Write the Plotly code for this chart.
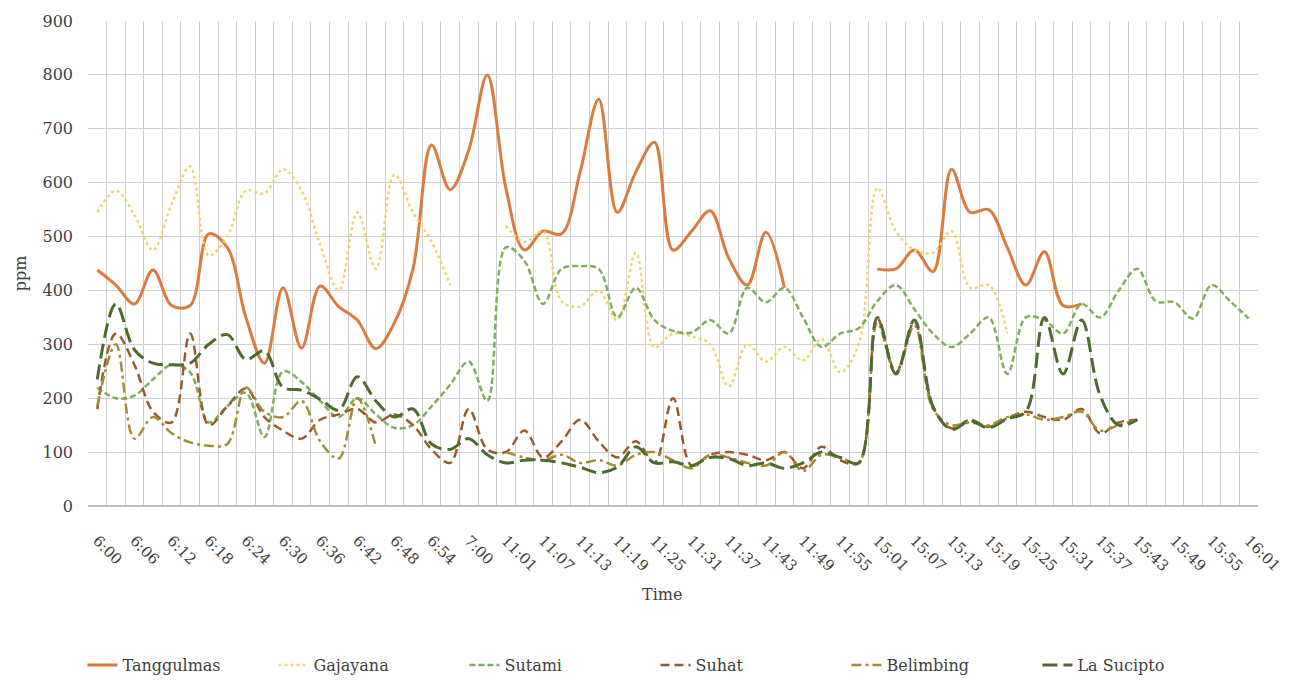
import plotly.graph_objects as go

# Category positions: 63 readings, every second one labelled
tick_labels = ["6:00", "6:06", "6:12", "6:18", "6:24", "6:30", "6:36", "6:42", "6:48", "6:54", "7:00",
               "11:01", "11:07", "11:13", "11:19", "11:25", "11:31", "11:37", "11:43", "11:49", "11:55",
               "15:01", "15:07", "15:13", "15:19", "15:25", "15:31", "15:37", "15:43", "15:49", "15:55", "16:01"]
n_points = 63
x_idx = list(range(n_points))

N = None
tanggulmas = [438, 410, 375, 438, 372, 372, 505, 480, 350, 265, 405, 293, 408, 370, 345, 292, 340, 440, 670, 587,
              660, 800, 590, 475, 510, 505, 620, 755, 545, 620, 675, 475, 510, 548, 460, 410, 508, 405, N, N,
              N, N, 440, 440, 475, 435, 625, 545, 550, 480, 410, 472, 372, 375, N, N, N, N, N, N,
              N, N, N]
gajayana = [545, 585, 540, 475, 560, 630, 465, 500, 585, 580, 625, 585, 485, 400, 545, 440, 615, 545, 490, 410,
            N, N, 520, 490, 510, 380, 370, 400, 345, 470, 295, 320, 315, 300, 222, 300, 268, 295, 270, 310,
            248, 300, 590, 510, 475, 470, 510, 405, 410, 320, N, N, N, N, N, N, N, N, N, N,
            N, N, N]
sutami = [220, 200, 205, 235, 262, 248, 155, 185, 210, 128, 250, 230, 195, 165, 200, 170, 145, 150, 185, 225,
          268, 195, 480, 455, 375, 440, 445, 440, 350, 405, 345, 325, 322, 345, 320, 405, 378, 405, 350, 295,
          320, 330, 380, 410, 365, 320, 295, 320, 350, 245, 350, 345, 320, 375, 350, 400, 440, 380, 378, 348,
          410, 380, 348]
suhat = [180, 320, 262, 175, 155, 320, 150, 185, 218, 165, 140, 125, 160, 170, 180, 155, 170, 150, 105, 80,
         180, 105, 100, 140, 90, 120, 160, 120, 90, 120, 80, 200, 75, 95, 100, 95, 85, 100, 70, 110,
         85, 80, 348, 248, 342, 183, 144, 160, 147, 163, 175, 165, 160, 180, 135, 155, 160, N, N, N,
         N, N, N]
belimbing = [185, 300, 125, 165, 135, 118, 112, 115, 220, 175, 165, 195, 120, 88, 200, 110, N, N, N, N,
             N, N, 100, 90, 85, 95, 80, 85, 75, 95, 100, 85, 70, 95, 90, 80, 75, 100, 65, 95,
             90, 80, 340, 245, 335, 180, 150, 155, 150, 165, 170, 160, 165, 175, 140, 150, 160, N, N, N,
             N, N, N]
la_sucipto = [235, 375, 290, 265, 262, 265, 300, 318, 272, 288, 220, 215, 198, 178, 240, 195, 165, 180, 115, 105,
              125, 95, 80, 85, 85, 80, 72, 62, 72, 110, 80, 82, 75, 90, 88, 75, 80, 70, 80, 100,
              90, 80, 350, 245, 345, 185, 142, 158, 145, 162, 175, 350, 245, 345, 205, 150, 160, N, N, N,
              N, N, N]

series = [
    ("Tanggulmas", tanggulmas, "#DA7B3F", "solid", 3),
    ("Gajayana", gajayana, "#F3D36E", "dot", 2.5),
    ("Sutami", sutami, "#7EAF5D", "6px,3px", 2.5),
    ("Suhat", suhat, "#9A5A2C", "9px,5px", 2.5),
    ("Belimbing", belimbing, "#A38D35", "10px,4px,3px,4px", 2.5),
    ("La Sucipto", la_sucipto, "#4D6B2F", "15px,6px", 3),
]

FONT = "DejaVu Serif"
TEXT = "#404040"

fig = go.Figure()
for name, vals, color, dash, width in series:
    fig.add_trace(go.Scatter(
        x=x_idx, y=vals, name=name, mode="lines",
        line=dict(color=color, dash=dash, width=width, shape="spline", smoothing=1.0),
        connectgaps=False,
    ))

fig.update_layout(
    width=1303, height=682,
    margin=dict(l=88, r=45, t=21, b=176, autoexpand=False),
    paper_bgcolor="white", plot_bgcolor="white",
    font=dict(family=FONT, color=TEXT, size=15),
    showlegend=True,
    legend=dict(orientation="h", x=0.485, xanchor="center", y=-0.328, yanchor="middle",
                entrywidth=146, font=dict(family=FONT, size=16, color=TEXT)),
)

fig.update_xaxes(
    range=[-0.5, n_points - 0.5], automargin=False,
    tickmode="array", tickvals=x_idx[::2], ticktext=tick_labels,
    tickangle=45, tickfont=dict(family=FONT, size=15, color=TEXT),
    ticklabelstandoff=22,
    showgrid=False, zeroline=False, showline=False, ticks="",
    minor=dict(tickmode="linear", tick0=-0.5, dtick=1, showgrid=True,
               gridcolor="#D0D0D0", gridwidth=1, ticks=""),
)
fig.update_yaxes(
    range=[0, 900], dtick=100, tick0=0, automargin=False,
    tickfont=dict(family=FONT, size=16, color=TEXT),
    ticklabelstandoff=14,
    showgrid=True, gridcolor="#D0D0D0", gridwidth=1,
    zeroline=True, zerolinecolor="#BFBFBF", zerolinewidth=1.5,
    showline=False, ticks="",
)

fig.add_annotation(text="ppm", xref="paper", yref="paper", x=-0.068, y=0.48,
                   textangle=-90, showarrow=False,
                   font=dict(family=FONT, size=16, color=TEXT))
fig.add_annotation(text="Time", xref="paper", yref="paper", x=0.491, y=-0.1835,
                   xanchor="center", yanchor="middle", showarrow=False,
                   font=dict(family=FONT, size=16, color=TEXT))

fig.write_html("out.html")
